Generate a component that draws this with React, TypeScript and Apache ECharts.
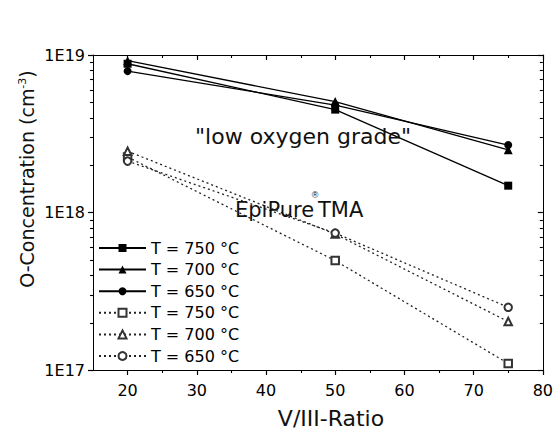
import React, { useEffect, useRef } from "react";
import * as echarts from "echarts";

const xValues = [20, 50, 75];
const solid750 = [8.8e18, 4.5e18, 1.48e18];
const solid700 = [9.2e18, 5.06e18, 2.5e18];
const solid650 = [7.9e18, 4.8e18, 2.68e18];
const open750 = [2.25e18, 4.95e17, 1.1e17];
const open700 = [2.45e18, 7.3e17, 2.03e17];
const open650 = [2.12e18, 7.4e17, 2.5e17];

const seriesNames = ["s750", "s700", "s650", "o750", "o700", "o650"];
const legendLabels = ["T = 750 °C", "T = 700 °C", "T = 650 °C", "T = 750 °C", "T = 700 °C", "T = 650 °C"];

const xMin = 15;
const xMax = 80;
const yMin = 1e17;
const yMax = 1e19;
const majorX = [20, 30, 40, 50, 60, 70, 80];
const minorX = [25, 35, 45, 55, 65, 75];
const minorY = [2e17, 3e17, 4e17, 5e17, 6e17, 7e17, 8e17, 9e17, 2e18, 3e18, 4e18, 5e18, 6e18, 7e18, 8e18, 9e18];

const FONT = "DejaVu Sans";

export default function App() {
  const ref = useRef<HTMLDivElement>(null);
  useEffect(() => {
    if (!ref.current) return;
    const chart = echarts.init(ref.current, null, { renderer: "svg" });
    const pts = (vals: number[]) => xValues.map((x, i) => [x, vals[i]]);
    const solid = (name: string, vals: number[], symbol: string, size: number) => ({
      name,
      type: "line",
      data: pts(vals),
      symbol,
      symbolSize: size,
      itemStyle: { color: "#000" },
      lineStyle: { color: "#000", width: 1.3 },
      z: 3,
    });
    const open = (name: string, vals: number[], symbol: string) => ({
      name,
      type: "line",
      data: pts(vals),
      symbol,
      symbolSize: 7.5,
      itemStyle: { color: "#333", borderWidth: 1 },
      lineStyle: { color: "#222", width: 1.3, type: [2, 3] },
      z: 3,
    });
    const mkLine = () => ({ show: true, onZero: false, lineStyle: { color: "#000", width: 1 } });
    const tickStyle = { color: "#000", width: 1.2 };
    const option: any = {
      animation: false,
      backgroundColor: "#fff",
      grid: { left: 93, top: 55, right: 13, bottom: 62 },
      legend: {
        orient: "vertical",
        left: 98,
        top: 240,
        padding: 0,
        itemWidth: 47,
        itemHeight: 10,
        itemGap: 5.6,
        selectedMode: false,
        data: seriesNames,
        formatter: (n: string) => legendLabels[seriesNames.indexOf(n)],
        textStyle: { fontFamily: FONT, fontSize: 16, color: "#000" },
      },
      xAxis: [
        {
          type: "value",
          position: "bottom",
          min: xMin,
          max: xMax,
          axisLine: mkLine(),
          axisTick: { show: true, inside: false, length: 5, customValues: majorX, lineStyle: tickStyle },
          axisLabel: { customValues: majorX, color: "#000", fontSize: 16, fontFamily: FONT, margin: 12 },
          splitLine: { show: false },
        },
        {
          type: "value",
          position: "top",
          min: xMin,
          max: xMax,
          axisLine: mkLine(),
          axisTick: { show: true, inside: true, length: 5, customValues: majorX, lineStyle: tickStyle },
          axisLabel: { show: false },
          splitLine: { show: false },
        },
      ],
      yAxis: [
        {
          type: "log",
          logBase: 10,
          position: "left",
          min: yMin,
          max: yMax,
          axisLine: mkLine(),
          axisTick: { show: true, inside: false, length: 5, lineStyle: tickStyle },
          axisLabel: {
            color: "#000",
            fontSize: 16,
            fontFamily: FONT,
            margin: 8,
            formatter: (v: number) => "1E" + Math.round(Math.log10(v)),
          },
          splitLine: { show: false },
        },
        {
          type: "log",
          logBase: 10,
          position: "right",
          min: yMin,
          max: yMax,
          axisLine: mkLine(),
          axisTick: { show: true, inside: true, length: 5, lineStyle: tickStyle },
          axisLabel: { show: false },
          splitLine: { show: false },
        },
      ],
      series: [
        solid(seriesNames[0], solid750, "rect", 8),
        solid(seriesNames[1], solid700, "triangle", 9),
        solid(seriesNames[2], solid650, "circle", 8),
        open(seriesNames[3], open750, "emptyRect"),
        open(seriesNames[4], open700, "emptyTriangle"),
        open(seriesNames[5], open650, "emptyCircle"),
      ],
    };
    chart.setOption(option);

    const px = (x: number, y: number) => chart.convertToPixel({ xAxisIndex: 0, yAxisIndex: 0 }, [x, y]) as number[];
    const seg = (a: number[], b: number[]) => ({
      type: "polyline",
      silent: true,
      z: 50,
      shape: { points: [a, b] },
      style: { stroke: "#000", lineWidth: 1.1 },
    });
    const ticks: any[] = [];
    minorY.forEach((v) => {
      const l = px(xMin, v);
      const r = px(xMax, v);
      const yy = Math.round(l[1]) + 0.5;
      ticks.push(seg([l[0] - 3, yy], [l[0], yy]));
      ticks.push(seg([r[0] - 3, yy], [r[0], yy]));
    });
    minorX.forEach((v) => {
      const b = px(v, yMin);
      const t = px(v, yMax);
      const xx = Math.round(b[0]) + 0.5;
      ticks.push(seg([xx, b[1]], [xx, b[1] + 3]));
      ticks.push(seg([xx, t[1]], [xx, t[1] + 3]));
    });

    const texts: any[] = [
      {
        type: "text",
        x: 195,
        y: 136,
        z: 10,
        style: { text: '"low oxygen grade"', fontFamily: FONT, fontSize: 22, fill: "#111", verticalAlign: "middle", align: "left" },
      },
      {
        type: "text",
        x: 235,
        y: 210,
        z: 10,
        style: { text: "EpiPure", fontFamily: FONT, fontSize: 21, fill: "#111", verticalAlign: "middle", align: "left" },
      },
      {
        type: "text",
        x: 315,
        y: 195,
        z: 10,
        style: { text: "®", fontFamily: "Liberation Sans", fontSize: 9, fill: "#111", verticalAlign: "middle", align: "center" },
      },
      {
        type: "text",
        x: 318,
        y: 210,
        z: 10,
        style: { text: "TMA", fontFamily: FONT, fontSize: 21, fill: "#111", verticalAlign: "middle", align: "left" },
      },
      {
        type: "text",
        x: 27,
        y: 179,
        rotation: Math.PI / 2,
        style: {
          text: "O-Concentration (cm{s|-3})",
          fontFamily: FONT,
          fontSize: 19,
          fill: "#111",
          align: "center",
          verticalAlign: "middle",
          rich: { s: { fontSize: 11, fontFamily: FONT, fill: "#111", verticalAlign: "top", padding: [0, 0, 10, 0] } },
        },
      },
      {
        type: "text",
        x: 331,
        y: 418,
        style: { text: "V/III-Ratio", fontFamily: FONT, fontSize: 22, fill: "#111", align: "center", verticalAlign: "middle" },
      },
    ];
    chart.setOption({ graphic: [...texts, ...ticks] });
    return () => chart.dispose();
  }, []);
  return <div ref={ref} style={{ position: "fixed", left: 0, top: 0, width: 556, height: 432 }} />;
}
